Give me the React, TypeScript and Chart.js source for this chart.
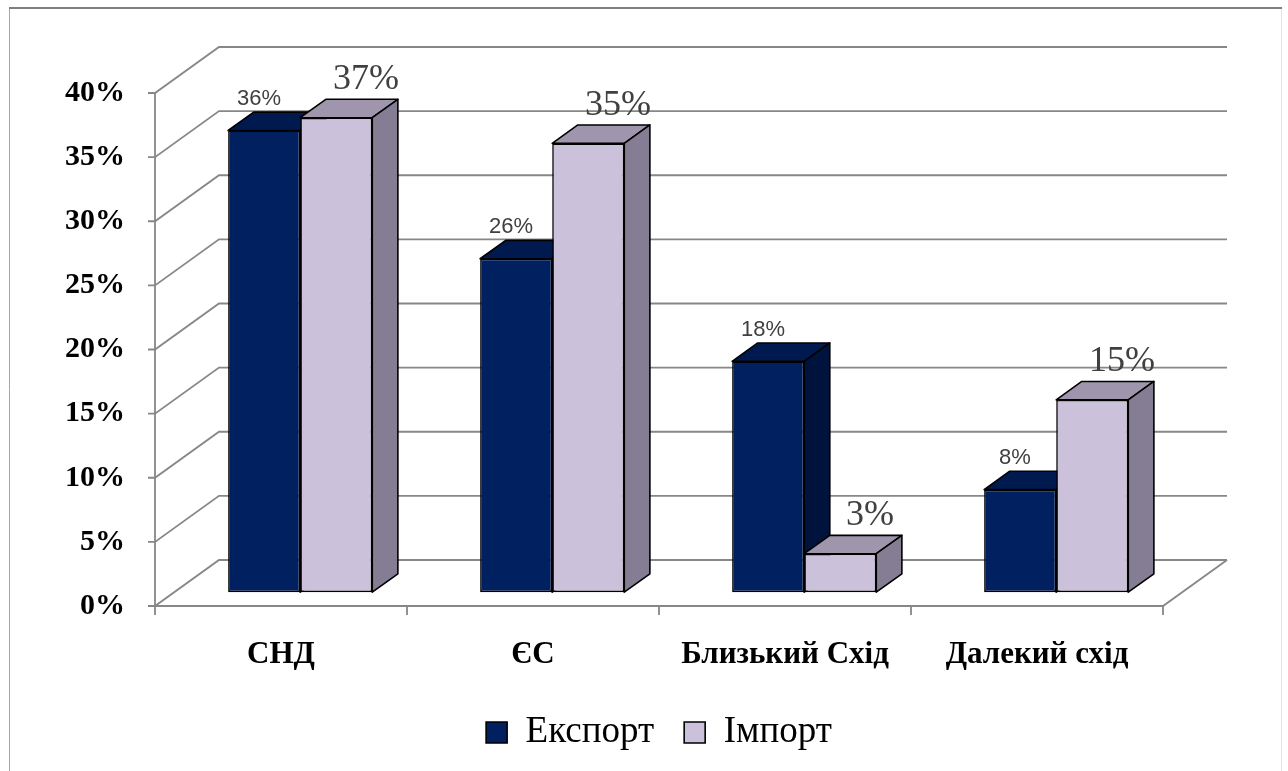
import React, { useEffect, useRef } from "react";
import { Chart, registerables } from "chart.js";

Chart.register(...registerables);

const categories = ["СНД", "ЄС", "Близький Схід", "Далекий схід"];
const exportShare = [36, 26, 18, 8];
const importShare = [37, 35, 3, 15];
const seriesNames = ["Експорт", "Імпорт"];

const Y_MIN = 0;
const Y_MAX = 40;
const Y_STEP = 5;

// Projection of the plot's depth onto the screen (px)
const DEPTH_X = 64;
const DEPTH_Y = -46;
// Where the bars sit inside that depth, as fractions of it
const BAR_FRONT = 0.3;
const BAR_DEPTH = 0.4;

const palette = [
  { front: "#00205f", top: "#001a50", side: "#00133c" },
  { front: "#ccc1da", top: "#9f96ad", side: "#857d93" },
];

const serif = "'Liberation Serif', 'Times New Roman', serif";
const sans = "'Liberation Sans', Arial, sans-serif";

const valueLabelStyle = [
  { font: `22px ${sans}`, dx: -18, gap: 7 },
  { font: `36px ${serif}`, dx: 17, gap: 10 },
];

function fillPoly(ctx: CanvasRenderingContext2D, pts: number[][], fill: string) {
  ctx.beginPath();
  ctx.moveTo(pts[0][0], pts[0][1]);
  for (let i = 1; i < pts.length; i++) ctx.lineTo(pts[i][0], pts[i][1]);
  ctx.closePath();
  ctx.fillStyle = fill;
  ctx.fill();
  ctx.stroke();
}

const bars3d = {
  id: "bars3d",
  beforeDraw(chart: any) {
    const { ctx, width, height } = chart;
    ctx.save();
    ctx.fillStyle = "#ffffff";
    ctx.fillRect(0, 0, width, height);
    ctx.lineWidth = 1;
    ctx.strokeStyle = "#a6a6a6";
    ctx.beginPath();
    ctx.moveTo(9.5, 8);
    ctx.lineTo(9.5, height);
    ctx.stroke();
    ctx.strokeStyle = "#e4e4e4";
    ctx.beginPath();
    ctx.moveTo(1281.5, 8);
    ctx.lineTo(1281.5, height);
    ctx.stroke();
    ctx.strokeStyle = "#808080";
    ctx.lineWidth = 2;
    ctx.beginPath();
    ctx.moveTo(9, 8);
    ctx.lineTo(1282, 8);
    ctx.stroke();
    ctx.restore();
  },
  beforeDatasetsDraw(chart: any) {
    const { ctx, chartArea: a, scales } = chart;
    const ys = scales.y;
    const xs = scales.x;

    // Walls: side-wall diagonals, back-wall gridlines, front axis, floor
    ctx.save();
    ctx.strokeStyle = "#878787";
    ctx.lineWidth = 1.8;
    for (const t of ys.ticks) {
      const py = ys.getPixelForValue(t.value);
      ctx.beginPath();
      ctx.moveTo(a.left - 7, py);
      ctx.lineTo(a.left, py);
      ctx.lineTo(a.left + DEPTH_X, py + DEPTH_Y);
      ctx.lineTo(a.right + DEPTH_X, py + DEPTH_Y);
      ctx.stroke();
    }
    ctx.beginPath();
    ctx.moveTo(a.left, ys.getPixelForValue(Y_MAX));
    ctx.lineTo(a.left, a.bottom);
    ctx.lineTo(a.right, a.bottom);
    ctx.lineTo(a.right + DEPTH_X, a.bottom + DEPTH_Y);
    ctx.stroke();
    for (let i = 0; i <= categories.length; i++) {
      const px = xs.getPixelForValue(i - 0.5);
      ctx.beginPath();
      ctx.moveTo(px, a.bottom);
      ctx.lineTo(px, a.bottom + 9);
      ctx.stroke();
    }

    // Bars: front face from Chart.js, then top and side faces
    const fx = DEPTH_X * BAR_FRONT;
    const fy = DEPTH_Y * BAR_FRONT;
    const bx = DEPTH_X * BAR_DEPTH;
    const by = DEPTH_Y * BAR_DEPTH;
    ctx.translate(fx, fy);
    const metas = chart.data.datasets.map((_: any, d: number) => chart.getDatasetMeta(d));
    categories.forEach((_, i) => {
      metas.forEach((meta: any, d: number) => {
        const bar = meta.data[i];
        bar.draw(ctx);
        const { x, y, base, width } = bar.getProps(["x", "y", "base", "width"], true);
        const L = x - width / 2;
        const R = x + width / 2;
        ctx.lineWidth = 1.6;
        ctx.strokeStyle = "#000000";
        ctx.lineJoin = "round";
        fillPoly(ctx, [[L, y], [R, y], [R + bx, y + by], [L + bx, y + by]], palette[d].top);
        fillPoly(ctx, [[R, y], [R + bx, y + by], [R + bx, base + by], [R, base]], palette[d].side);
      });
    });

    // Value labels above each bar
    ctx.textAlign = "center";
    ctx.textBaseline = "alphabetic";
    ctx.fillStyle = "#404040";
    metas.forEach((meta: any, d: number) => {
      const st = valueLabelStyle[d];
      ctx.font = st.font;
      meta.data.forEach((bar: any, i: number) => {
        const { x, y } = bar.getProps(["x", "y"], true);
        const v = chart.data.datasets[d].data[i];
        ctx.fillText(`${v}%`, x + bx / 2 + st.dx, y + by - st.gap);
      });
    });
    ctx.restore();
    return false;
  },
};

export default function App() {
  const ref = useRef<HTMLCanvasElement | null>(null);

  useEffect(() => {
    if (!ref.current) return;
    const chart = new Chart(ref.current, {
      type: "bar",
      data: {
        labels: categories,
        datasets: [
          {
            label: seriesNames[0],
            data: exportShare,
            backgroundColor: palette[0].front,
            borderColor: "#000000",
            borderWidth: 1.6,
            borderSkipped: false,
          },
          {
            label: seriesNames[1],
            data: importShare,
            backgroundColor: palette[1].front,
            borderColor: "#000000",
            borderWidth: 1.6,
            borderSkipped: false,
          },
        ],
      },
      options: {
        animation: false,
        responsive: true,
        maintainAspectRatio: false,
        events: [],
        layout: { padding: { left: 0, right: 125, top: 93, bottom: 10 } },
        datasets: { bar: { barPercentage: 1, categoryPercentage: 0.572 } },
        scales: {
          x: {
            grid: { display: false, drawTicks: false },
            border: { display: false },
            ticks: {
              font: { family: serif, size: 31, weight: "bold" },
              color: "#000000",
              padding: 30,
              maxRotation: 0,
              autoSkip: false,
            },
            afterFit: (s: any) => {
              s.height = 78;
            },
          },
          y: {
            min: Y_MIN,
            max: Y_MAX,
            grid: { display: false, drawTicks: false },
            border: { display: false },
            ticks: {
              stepSize: Y_STEP,
              callback: (v: any) => `${v}%`,
              font: { family: serif, size: 30, weight: "bold" },
              color: "#000000",
              padding: 30,
            },
            afterFit: (s: any) => {
              s.width = 155;
            },
          },
        },
        plugins: {
          legend: {
            position: "bottom",
            fullSize: false,
            labels: {
              font: { family: serif, size: 37 },
              color: "#000000",
              boxWidth: 21,
              boxHeight: 21,
              padding: 30,
              sort: (a: any, b: any) => a.datasetIndex - b.datasetIndex,
            },
          },
          tooltip: { enabled: false },
        },
      },
      plugins: [bars3d],
    } as any);
    return () => chart.destroy();
  }, []);

  return (
    <div style={{ position: "fixed", left: 0, top: 0, width: 1288, height: 771, background: "#fff" }}>
      <canvas ref={ref} />
    </div>
  );
}
